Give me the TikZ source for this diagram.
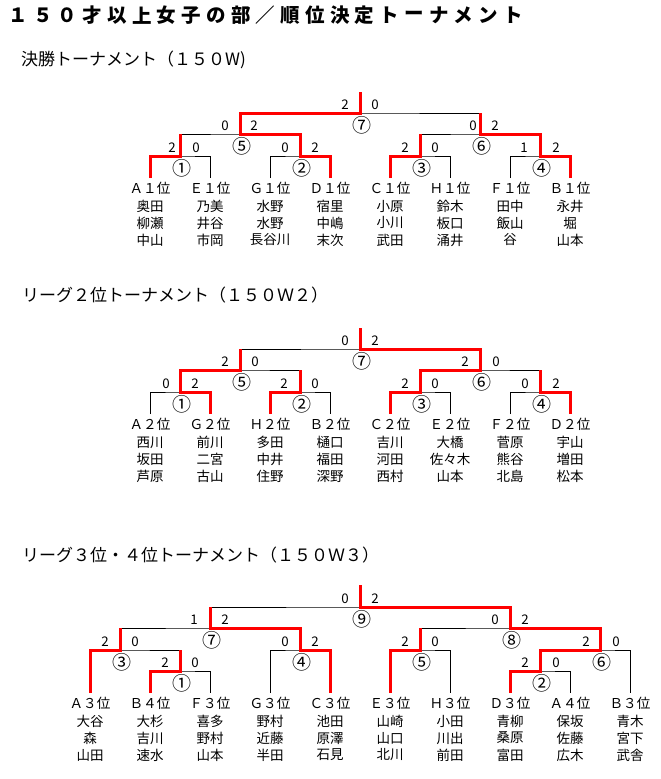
\documentclass[tikz,border=0pt]{standalone}
\usepackage{fontspec}
\setmainfont{Noto Sans CJK JP}
\usetikzlibrary{calc}
\tikzset{
  ln/.style={black, line width=1pt},
  win/.style={red, line width=3pt, line join=miter},
  sc/.style={inner sep=0pt, font=\fontsize{13.3}{14}\selectfont},
  cnum/.style={inner sep=0pt, font=\fontsize{19}{20}\selectfont},
  lab/.style={inner sep=0pt, font=\fontsize{13.6}{14}\selectfont},
  nm/.style={inner sep=0pt, font=\fontsize{13.5}{14}\selectfont},
  head/.style={inner sep=0pt, anchor=west, font=\fontsize{17}{18}\selectfont},
  ttl/.style={inner sep=0pt, font=\fontsize{19.5}{20}\selectfont\bfseries},
}
\newcommand\mkleaf[7]{%
  \coordinate (#1) at (#2,#3);
  \node[lab] (#1l) at (#2,#3+10) {#4};
  \node[nm] (#1a) at (#2,#3+28.5) {#5};
  \node[nm] (#1b) at (#2,#3+45) {#6};
  \node[nm] (#1c) at (#2,#3+62) {#7};
}
\newcommand\mkmatch[6]{%
  \coordinate (#1) at (#2,#3);
  \draw[ln] (#4) |- (#1) -| (#5);
  \node[cnum] (#1n) at (#2+1.5,#3+12.5) {#6};
}
\newcommand\mkwin[3]{\draw[win] (#1) |- (#2) -- (#2 |- #3);}
\newcommand\mkscore[5]{%
  \node[sc] (#1L) at ($(#1)+(#2,-8)$) {#3};
  \node[sc] (#1R) at ($(#1)+(#4,-8)$) {#5};
}
\begin{document}
\begin{tikzpicture}[x=1pt,y=-1pt]
\fill[white] (0,0) rectangle (661,779);
\useasboundingbox (0,0) rectangle (661,779);

% title
\foreach \c [count=\i from 0] in {１,５,０,才,以,上,女,子,の,部,／,順,位,決,定,ト,ー,ナ,メ,ン,ト}
  \node[ttl] (t\i) at (18+24.75*\i,15.5) {\c};

% headings
\node[head] (h1) at (21,60) {決勝トーナメント（１５０W)};
\node[head] (h2) at (22,295) {リーグ２位トーナメント（１５０Ｗ２）};
\node[head] (h3) at (22,555) {リーグ３位・４位トーナメント（１５０Ｗ３）};

% ---------- section 1 ----------
\mkleaf{a1}{150}{178}{Ａ１位}{奥田}{柳瀬}{中山}
\mkleaf{a2}{210}{178}{Ｅ１位}{乃美}{井谷}{市岡}
\mkleaf{a3}{270}{178}{Ｇ１位}{水野}{水野}{長谷川}
\mkleaf{a4}{330}{178}{Ｄ１位}{宿里}{中嶋}{末次}
\mkleaf{a5}{390}{178}{Ｃ１位}{小原}{小川}{武田}
\mkleaf{a6}{450}{178}{Ｈ１位}{鈴木}{板口}{涌井}
\mkleaf{a7}{510}{178}{Ｆ１位}{田中}{飯山}{谷}
\mkleaf{a8}{570}{178}{Ｂ１位}{永井}{堀}{山本}
\coordinate (aT) at (360,92);
\mkmatch{am1}{180}{156}{a1}{a2}{①}
\mkmatch{am2}{300}{156}{a3}{a4}{②}
\mkmatch{am3}{420}{156}{a5}{a6}{③}
\mkmatch{am4}{540}{156}{a7}{a8}{④}
\mkmatch{am5}{240}{134}{am1}{am2}{⑤}
\mkmatch{am6}{480}{134}{am3}{am4}{⑥}
\mkmatch{am7}{360}{113}{am5}{am6}{⑦}
\draw[ln] (am7) -- (aT);
\mkwin{a1}{am1}{am5}
\mkwin{a4}{am2}{am5}
\mkwin{a5}{am3}{am6}
\mkwin{a8}{am4}{am6}
\mkwin{am2}{am5}{am7}
\mkwin{am4}{am6}{am7}
\mkwin{am5}{am7}{aT}
\mkscore{am1}{-8}{2}{16}{0}
\mkscore{am2}{-15}{0}{15}{2}
\mkscore{am3}{-15}{2}{15}{0}
\mkscore{am4}{-16}{1}{16}{2}
\mkscore{am5}{-15}{0}{14}{2}
\mkscore{am6}{-7}{0}{15}{2}
\mkscore{am7}{-15}{2}{15}{0}

% ---------- section 2 ----------
\mkleaf{b1}{150}{414}{Ａ２位}{西川}{坂田}{芦原}
\mkleaf{b2}{210}{414}{Ｇ２位}{前川}{二宮}{古山}
\mkleaf{b3}{270}{414}{Ｈ２位}{多田}{中井}{住野}
\mkleaf{b4}{330}{414}{Ｂ２位}{樋口}{福田}{深野}
\mkleaf{b5}{390}{414}{Ｃ２位}{吉川}{河田}{西村}
\mkleaf{b6}{450}{414}{Ｅ２位}{大橋}{佐々木}{山本}
\mkleaf{b7}{510}{414}{Ｆ２位}{菅原}{熊谷}{北島}
\mkleaf{b8}{570}{414}{Ｄ２位}{宇山}{増田}{松本}
\coordinate (bT) at (360,328);
\mkmatch{bm1}{180}{392}{b1}{b2}{①}
\mkmatch{bm2}{300}{392}{b3}{b4}{②}
\mkmatch{bm3}{420}{392}{b5}{b6}{③}
\mkmatch{bm4}{540}{392}{b7}{b8}{④}
\mkmatch{bm5}{240}{370}{bm1}{bm2}{⑤}
\mkmatch{bm6}{480}{370}{bm3}{bm4}{⑥}
\mkmatch{bm7}{360}{349}{bm5}{bm6}{⑦}
\draw[ln] (bm7) -- (bT);
\mkwin{b2}{bm1}{bm5}
\mkwin{b3}{bm2}{bm5}
\mkwin{b5}{bm3}{bm6}
\mkwin{b8}{bm4}{bm6}
\mkwin{bm1}{bm5}{bm7}
\mkwin{bm3}{bm6}{bm7}
\mkwin{bm6}{bm7}{bT}
\mkscore{bm1}{-14}{0}{15}{2}
\mkscore{bm2}{-16}{2}{15}{0}
\mkscore{bm3}{-15}{2}{15}{0}
\mkscore{bm4}{-15}{0}{16}{2}
\mkscore{bm5}{-15}{2}{15}{0}
\mkscore{bm6}{-15}{2}{16}{0}
\mkscore{bm7}{-15}{0}{15}{2}

% ---------- section 3 ----------
\mkleaf{c1}{90}{693}{Ａ３位}{大谷}{森}{山田}
\mkleaf{c2}{150}{693}{Ｂ４位}{大杉}{吉川}{速水}
\mkleaf{c3}{210}{693}{Ｆ３位}{喜多}{野村}{山本}
\mkleaf{c4}{270}{693}{Ｇ３位}{野村}{近藤}{半田}
\mkleaf{c5}{330}{693}{Ｃ３位}{池田}{原澤}{石見}
\mkleaf{c6}{390}{693}{Ｅ３位}{山崎}{山口}{北川}
\mkleaf{c7}{450}{693}{Ｈ３位}{小田}{川出}{前田}
\mkleaf{c8}{510}{693}{Ｄ３位}{青柳}{桑原}{富田}
\mkleaf{c9}{570}{693}{Ａ４位}{保坂}{佐藤}{広木}
\mkleaf{c10}{630}{693}{Ｂ３位}{青木}{宮下}{武舎}
\coordinate (cT) at (360,585);
\mkmatch{cm1}{180}{671}{c2}{c3}{①}
\mkmatch{cm2}{540}{671}{c8}{c9}{②}
\mkmatch{cm3}{120}{650}{c1}{cm1}{③}
\mkmatch{cm4}{300}{650}{c4}{c5}{④}
\mkmatch{cm5}{420}{650}{c6}{c7}{⑤}
\mkmatch{cm6}{600}{650}{cm2}{c10}{⑥}
\mkmatch{cm7}{210}{628}{cm3}{cm4}{⑦}
\mkmatch{cm8}{510}{628}{cm5}{cm6}{⑧}
\mkmatch{cm9}{360}{607}{cm7}{cm8}{⑨}
\draw[ln] (cm9) -- (cT);
\mkwin{c2}{cm1}{cm3}
\mkwin{c8}{cm2}{cm6}
\mkwin{c1}{cm3}{cm7}
\mkwin{c5}{cm4}{cm7}
\mkwin{c6}{cm5}{cm8}
\mkwin{cm2}{cm6}{cm8}
\mkwin{cm4}{cm7}{cm9}
\mkwin{cm6}{cm8}{cm9}
\mkwin{cm8}{cm9}{cT}
\mkscore{cm1}{-15}{2}{15}{0}
\mkscore{cm2}{-15}{2}{16}{0}
\mkscore{cm3}{-15}{2}{15}{0}
\mkscore{cm4}{-15}{0}{15}{2}
\mkscore{cm5}{-15}{2}{15}{0}
\mkscore{cm6}{-14}{2}{16}{0}
\mkscore{cm7}{-16}{1}{15}{2}
\mkscore{cm8}{-15}{0}{15}{2}
\mkscore{cm9}{-15}{0}{15}{2}
\end{tikzpicture}
\end{document}
